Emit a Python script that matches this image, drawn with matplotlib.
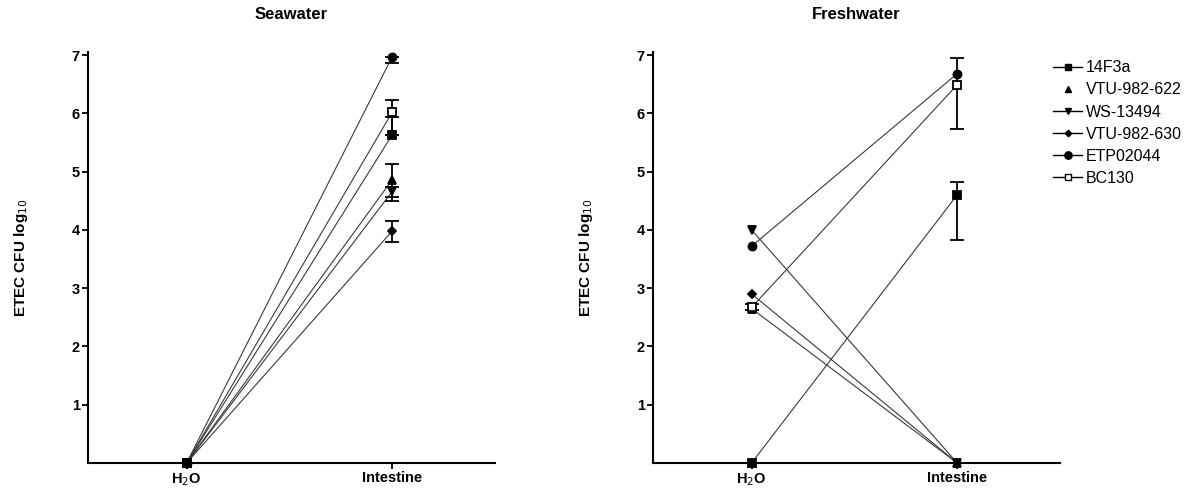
import matplotlib.pyplot as plt
from matplotlib.lines import Line2D

plt.rcParams['font.family'] = ['Liberation Sans', 'DejaVu Sans']

# ----------------------------
# Data (log10 CFU)
# ----------------------------
strains = ["14F3a", "VTU-982-622", "WS-13494", "VTU-982-630", "ETP02044", "BC130"]
markers = ["s", "^", "v", "D", "o", "s"]
filled = [True, True, True, True, True, False]
categories = ["H$_2$O", "Intestine"]

sea_h2o = [0, 0, 0, 0, 0, 0]
sea_int = [5.63, 4.86, 4.66, 3.98, 6.97, 6.02]
sea_int_lo = [0.0, 0.30, 0.16, 0.18, 0.11, 0.40]
sea_int_hi = [0.30, 0.27, 0.08, 0.18, 0.0, 0.21]

fresh_h2o = [0, 2.65, 4.0, 2.9, 3.72, 2.67]
fresh_h2o_err = [0, 0, 0, 0, 0, 0.05]
fresh_int = [4.6, 0, 0, 0, 6.68, 6.49]
fresh_int_lo = [0.77, 0, 0, 0, 0, 0.76]
fresh_int_hi = [0.23, 0, 0, 0, 0, 0.46]

# drawing order: BC130 above the other open/filled points, 14F3a on top
draw_order = [4, 3, 2, 1, 5, 0]

LINE_C = "#3a3a3a"


def marker_size(m):
    return {"s": 5.5, "^": 5.5, "v": 5.5, "D": 3.8, "o": 5.8}[m]


def draw_panel(ax, title, h2o, h2o_err, intest, lo, hi):
    for i in draw_order:
        ax.plot([0, 1], [h2o[i], intest[i]], color=LINE_C, lw=0.8, zorder=2)
        for x, y, el, eh in [(0, h2o[i], h2o_err[i], h2o_err[i]),
                             (1, intest[i], lo[i], hi[i])]:
            if el == 0 and eh == 0:
                continue
            ax.errorbar([x], [y], yerr=[[el], [eh]], fmt="none", ecolor="black",
                        elinewidth=1.3, capsize=5, capthick=1.3, zorder=3)
        ax.plot([0, 1], [h2o[i], intest[i]], linestyle="none",
                marker=markers[i], markersize=marker_size(markers[i]),
                markerfacecolor="black" if filled[i] else "white",
                markeredgecolor="black", markeredgewidth=1.3, zorder=4,
                clip_on=False)

    ax.set_xlim(-0.48, 1.5)
    ax.set_ylim(0, 7.05)
    ax.set_yticks([1, 2, 3, 4, 5, 6, 7])
    ax.set_xticks([0, 1])
    ax.set_xticklabels(categories, fontweight="bold", fontsize=10.5)
    for lab in ax.get_yticklabels():
        lab.set_fontweight("bold")
        lab.set_fontsize(10.5)
    ax.tick_params(axis="both", direction="out", length=4, width=1.3, pad=2)
    ax.spines["top"].set_visible(False)
    ax.spines["right"].set_visible(False)
    ax.spines["left"].set_linewidth(1.5)
    ax.spines["bottom"].set_linewidth(1.5)
    ax.set_ylabel("ETEC CFU log$_{10}$", fontweight="bold", fontsize=11, labelpad=30)
    ax.set_title(title, fontweight="bold", fontsize=12, pad=24)


fig = plt.figure(figsize=(11.97, 4.92), dpi=100)
ax1 = fig.add_axes([0.0735, 0.059, 0.340, 0.835])
ax2 = fig.add_axes([0.5455, 0.059, 0.340, 0.835])

draw_panel(ax1, "Seawater", sea_h2o, [0] * 6, sea_int, sea_int_lo, sea_int_hi)
draw_panel(ax2, "Freshwater", fresh_h2o, fresh_h2o_err, fresh_int, fresh_int_lo, fresh_int_hi)

handles = []
for i, name in enumerate(strains):
    handles.append(Line2D([], [], color="black", lw=1.0,
                          linestyle="none" if name == "VTU-982-622" else "-",
                          marker=markers[i], markersize=marker_size(markers[i]) - 0.5,
                          markerfacecolor="black" if filled[i] else "white",
                          markeredgecolor="black", label=name))
fig.legend(handles=handles, loc="upper left", bbox_to_anchor=(0.868, 0.907),
           frameon=False, fontsize=11.5, handlelength=1.8, handletextpad=0.25,
           labelspacing=0.45)

fig.savefig("out.png", dpi=100)
